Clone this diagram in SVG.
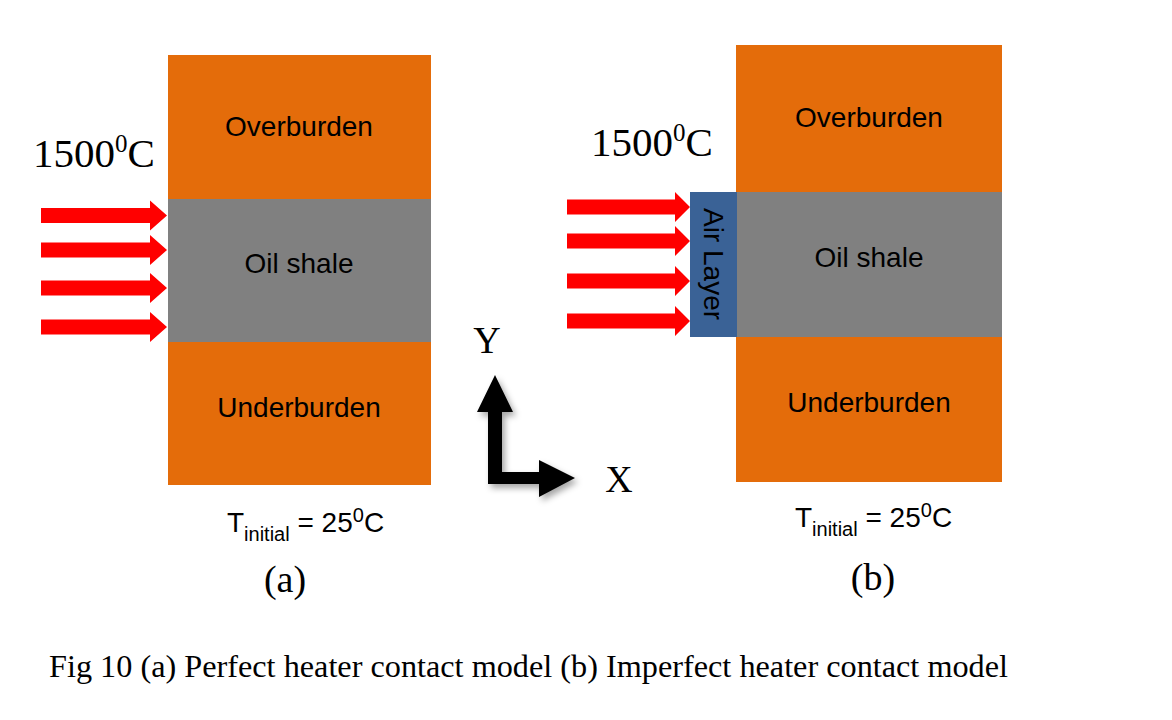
<svg xmlns="http://www.w3.org/2000/svg" xmlns:xlink="http://www.w3.org/1999/xlink" width="1172" height="720" viewBox="0 0 1172 720">
<style>
.orange{fill:#E46C0A}
.gray{fill:#808080}
.air{fill:#3A6296}
.lbl{font-family:"Liberation Sans",Arial,sans-serif;font-size:28px;fill:#000;text-anchor:middle}
.serif{font-family:"Liberation Serif","Times New Roman",serif;fill:#000}
.heat{fill:#FF0000}
.tin{font-family:"Liberation Sans",Arial,sans-serif;fill:#000}
</style>
<defs>
<path id="heatArrowA" d="M0,-7.5 H109 V-15 L126,0 L109,15 V7.5 H0 Z"/>
<path id="heatArrowB" d="M0,-7.5 H108 V-15 L123,0 L108,15 V7.5 H0 Z"/>
<filter id="sh" x="-30%" y="-30%" width="160%" height="160%">
<feDropShadow dx="3" dy="4" stdDeviation="3" flood-color="#000" flood-opacity="0.35"/>
</filter>
</defs>
<rect width="1172" height="720" fill="#fff"/>

<g id="modelA">
<g id="a-overburden"><rect class="orange" x="168" y="55" width="263" height="144"/><text class="lbl" x="299" y="136">Overburden</text></g>
<g id="a-oilshale"><rect class="gray" x="168" y="199" width="263" height="143"/><text class="lbl" x="299" y="273">Oil shale</text></g>
<g id="a-underburden"><rect class="orange" x="168" y="342" width="263" height="143"/><text class="lbl" x="299" y="417">Underburden</text></g>
<text id="a-temp" class="serif" x="33" y="167" font-size="41">1500<tspan font-size="25" dy="-15">0</tspan><tspan dy="15">C</tspan></text>
<text id="a-tinit" class="tin" x="227" y="532" font-size="28">T<tspan font-size="20" dy="9">initial</tspan><tspan dy="-9"> = 25</tspan><tspan font-size="20" dy="-10">0</tspan><tspan dy="10">C</tspan></text>
<text id="a-label" class="serif" x="285" y="592" font-size="38" text-anchor="middle">(a)</text>
</g>

<g id="modelB">
<g id="b-overburden"><rect class="orange" x="736" y="45" width="266" height="147"/><text class="lbl" x="869" y="127">Overburden</text></g>
<g id="b-oilshale"><rect class="gray" x="736" y="192" width="266" height="145"/><text class="lbl" x="869" y="267">Oil shale</text></g>
<g id="b-underburden"><rect class="orange" x="736" y="337" width="266" height="145"/><text class="lbl" x="869" y="412">Underburden</text></g>
<g id="b-airlayer"><rect class="air" x="690" y="192" width="47" height="145"/><text class="lbl" transform="translate(704,264) rotate(90)" x="0" y="0" font-size="28">Air Layer</text></g>
<text id="b-temp" class="serif" x="591" y="156" font-size="41">1500<tspan font-size="25" dy="-15">0</tspan><tspan dy="15">C</tspan></text>
<text id="b-tinit" class="tin" x="795" y="527" font-size="28">T<tspan font-size="20" dy="9">initial</tspan><tspan dy="-9"> = 25</tspan><tspan font-size="20" dy="-10">0</tspan><tspan dy="10">C</tspan></text>
<text id="b-label" class="serif" x="873" y="590" font-size="38" text-anchor="middle">(b)</text>
</g>

<g id="axes">
<path filter="url(#sh)" fill="#000" d="M488,477 V412 H477 L495,375 L513,412 H502 V472 H539 V460 L575,478 L539,497 V484 H488 Z"/>
<text class="serif" x="487" y="353" font-size="38" text-anchor="middle">Y</text>
<text class="serif" x="619" y="492" font-size="38" text-anchor="middle">X</text>
</g>

<g id="connectors">
<use xlink:href="#heatArrowA" class="heat" x="41" y="215.5"/>
<use xlink:href="#heatArrowA" class="heat" x="41" y="250"/>
<use xlink:href="#heatArrowA" class="heat" x="41" y="288"/>
<use xlink:href="#heatArrowA" class="heat" x="41" y="327"/>
<use xlink:href="#heatArrowB" class="heat" x="567" y="207"/>
<use xlink:href="#heatArrowB" class="heat" x="567" y="241"/>
<use xlink:href="#heatArrowB" class="heat" x="567" y="281"/>
<use xlink:href="#heatArrowB" class="heat" x="567" y="321"/>
</g>

<text id="caption" class="serif" x="49" y="677" font-size="32" textLength="959" lengthAdjust="spacingAndGlyphs">Fig 10 (a) Perfect heater contact model (b) Imperfect heater contact model</text>
</svg>
